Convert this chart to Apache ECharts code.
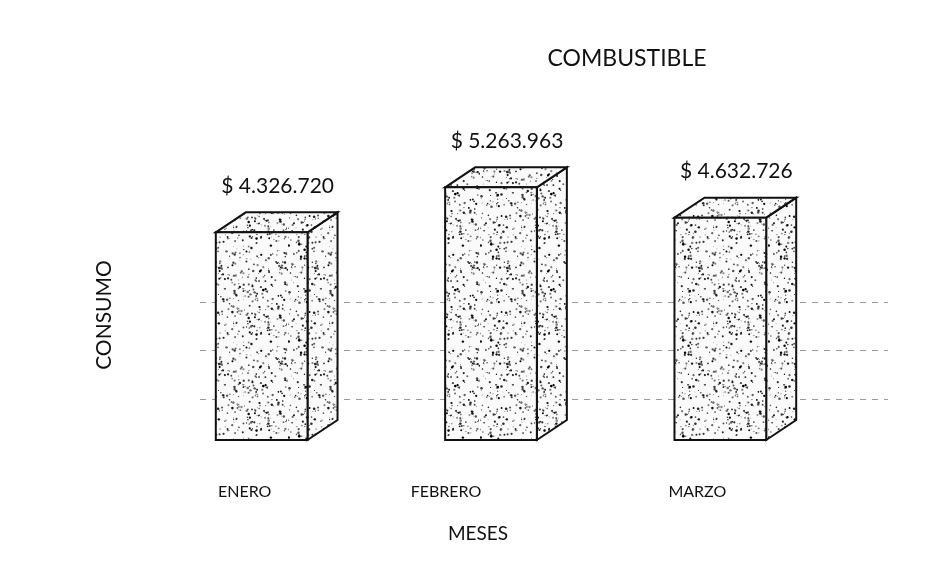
<!DOCTYPE html>
<html><head><meta charset="utf-8">
<script src="https://cdn.jsdelivr.net/npm/echarts@6/dist/echarts.min.js"></script>
<style>html,body{margin:0;padding:0;background:#fff}#c{width:952px;height:577px}</style>
</head><body><div id="c"></div>
<script>
const categories = ['ENERO', 'FEBRERO', 'MARZO'];
const consumo = [4326720, 5263963, 4632726];
const gridTicks = [0, 1, 2, 3];

function fmt(n){ return '$ ' + String(n).replace(/\B(?=(\d{3})+(?!\d))/g, '.'); }

// stipple texture (deterministic hash)
const pc = document.createElement('canvas'); pc.width = 96; pc.height = 96;
const pctx = pc.getContext('2d');
pctx.fillStyle = '#fafafa'; pctx.fillRect(0,0,96,96);
let s = 12345;
function h(){ s = (s * 1103515245 + 12345) & 0x7fffffff; return s / 0x7fffffff; }
for (let i = 0; i < 420; i++) {
  const x = h()*96, y = h()*96, r = 0.4 + h()*0.9;
  pctx.fillStyle = 'rgba(0,0,0,' + (0.45 + h()*0.55) + ')';
  pctx.beginPath(); pctx.arc(x, y, r, 0, Math.PI*2); pctx.fill();
}
const texture = { image: pc, repeat: 'repeat' };

const DX = 30, DY = 20;
const chart = echarts.init(document.getElementById('c'));
chart.setOption({
  backgroundColor: '#fff',
  animation: false,
  title: { text: 'COMBUSTIBLE', left: 622, top: 42, textAlign: 'center',
    textStyle: { fontFamily: 'Lato', fontSize: 23, fontWeight: 'normal', color: '#111' } },
  grid: [
    { left: 147, right: 117, top: 152, bottom: 137 },
    { left: 200, right: 64, top: 302, bottom: 129 }
  ],
  xAxis: [
    { type: 'category', data: categories.map((c, i) => ({ value: c, textStyle: { padding: [0, [34, 90, 46][i], 0, 0] } })),
      gridIndex: 0, axisLine: { show: false }, axisTick: { show: false },
      axisLabel: { margin: 44, fontFamily: 'Lato', fontSize: 16, color: '#111' },
      name: 'MESES', nameLocation: 'middle', nameGap: 84,
      nameTextStyle: { fontFamily: 'Lato', fontSize: 19, color: '#111', padding: [0, 26, 0, 0] } },
    { type: 'value', gridIndex: 1, show: false, min: 0, max: 1 }
  ],
  yAxis: [
    { type: 'value', gridIndex: 0, min: 0, max: 6000000, interval: 1000000,
      axisLine: { show: false }, axisTick: { show: false }, axisLabel: { show: false },
      splitLine: { show: false },
      name: 'CONSUMO', nameLocation: 'middle', nameGap: 32, nameRotate: 90,
      nameTextStyle: { fontFamily: 'Lato', fontSize: 21, color: '#111', padding: [0, 38, 0, 0] } },
    { type: 'value', gridIndex: 1, min: gridTicks[0], max: gridTicks[gridTicks.length-1], interval: 1,
      axisLine: { show: false }, axisTick: { show: false }, axisLabel: { show: false },
      splitLine: { show: true, showMinLine: false, lineStyle: { color: '#999', type: [6, 6], width: 1 } } }
  ],
  series: [
    { type: 'line', xAxisIndex: 1, yAxisIndex: 1, data: [], silent: true },
    { type: 'custom', xAxisIndex: 0, yAxisIndex: 0, z: 10,
      data: consumo.map((v, i) => [i, v]),
      renderItem: function (params, api) {
        const xi = api.value(0), v = api.value(1);
        const top = api.coord([xi, v]);
        const base = api.coord([xi, 0]);
        const bw = api.size([1, 0])[0] * 0.4;
        const l = top[0] - bw / 2, r = top[0] + bw / 2, t = top[1], b = base[1];
        const st = { fill: texture, stroke: '#111', lineWidth: 2 };
        return { type: 'group', children: [
          { type: 'polygon', shape: { points: [[r, t], [r + DX, t - DY], [r + DX, b - DY], [r, b]] }, style: st },
          { type: 'polygon', shape: { points: [[l, t], [l + DX, t - DY], [r + DX, t - DY], [r, t]] }, style: st },
          { type: 'rect', shape: { x: l, y: t, width: bw, height: b - t }, style: st },
          { type: 'text', style: { text: fmt(v), x: top[0] + DX / 2 + 1, y: t - DY - 26,
            align: 'center', verticalAlign: 'middle', fontFamily: 'Lato', fontSize: 21, fill: '#111' } }
        ] };
      }
    }
  ]
});
</script></body></html>
